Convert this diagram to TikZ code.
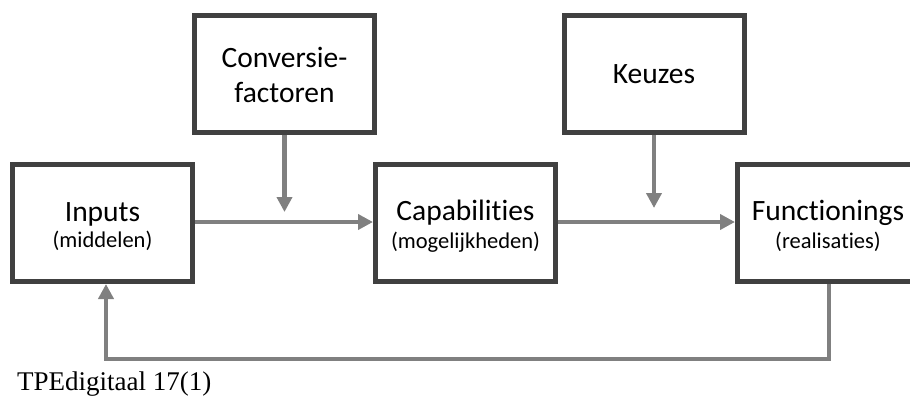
\documentclass[tikz,border=0pt]{standalone}
\usepackage{fontspec}
\setmainfont[Ligatures={NoCommon,NoRare,NoContextual}]{Carlito}
\newfontfamily\capfont{Liberation Serif}
\usetikzlibrary{arrows.meta}
\definecolor{boxline}{HTML}{404040}
\definecolor{arrowgray}{HTML}{808080}
\tikzset{
  blk/.style={draw=boxline, line width=5pt, fill=white, minimum width=180pt, minimum height=117pt, inner sep=0pt},
  maintxt/.style={anchor=base, inner sep=0pt, font=\fontsize{29.5}{31}\selectfont},
  subtxt/.style={anchor=base, inner sep=0pt, font=\fontsize{22.5}{24}\selectfont},
  conn/.style={draw=arrowgray, line width=4.5pt, -{Triangle[length=15pt,width=15pt]}},
}
\begin{document}
\begin{tikzpicture}[x=1pt,y=-1pt]
\useasboundingbox (0,0) rectangle (910,397);
% boxes
\node[blk] (inp) at (102.5,223) {};
\node[blk] (conv) at (284.5,74) {};
\node[blk] (cap) at (465.5,223) {};
\node[blk] (keu) at (654,74) {};
\node[blk, minimum width=200pt] (fun) at (837.5,223) {};
% texts
\node[maintxt] (inpT) at (102.5,221) {Inputs};
\node[subtxt] (inpS) at (102.5,247) {(middelen)};
\node[maintxt] (convT1) at (284.5,67) {Conversie-};
\node[maintxt] (convT2) at (284.5,102) {factoren};
\node[maintxt] (capT) at (465.5,220) {Capabilities};
\node[subtxt] (capS) at (465.5,248) {(mogelijkheden)};
\node[maintxt] (keuT) at (654,83) {Keuzes};
\node[maintxt] (funT) at (828,220) {Functionings};
\node[subtxt] (funS) at (828,248) {(realisaties)};
% connector end points
\coordinate (convTip) at (284.5,212);
\coordinate (keuTip) at (654,208);
\coordinate (fbA) at (829,359);
\coordinate (fbB) at (106,359);
% connectors
\draw[conn] (inp.east |- 0,222) -- (cap.west |- 0,222);
\draw[conn] (cap.east |- 0,222) -- (fun.west |- 0,222);
\draw[conn] (conv.south) -- (convTip);
\draw[conn] (keu.south) -- (keuTip);
\draw[conn] (fun.south -| fbA) -- (fbA) -- (fbB) -- (fbB |- inp.south);
% caption
\node[anchor=base west, inner sep=0pt, font=\capfont\fontsize{27}{29}\selectfont] (cap2) at (17,390) {TPEdigitaal 17(1)};
\end{tikzpicture}
\end{document}
